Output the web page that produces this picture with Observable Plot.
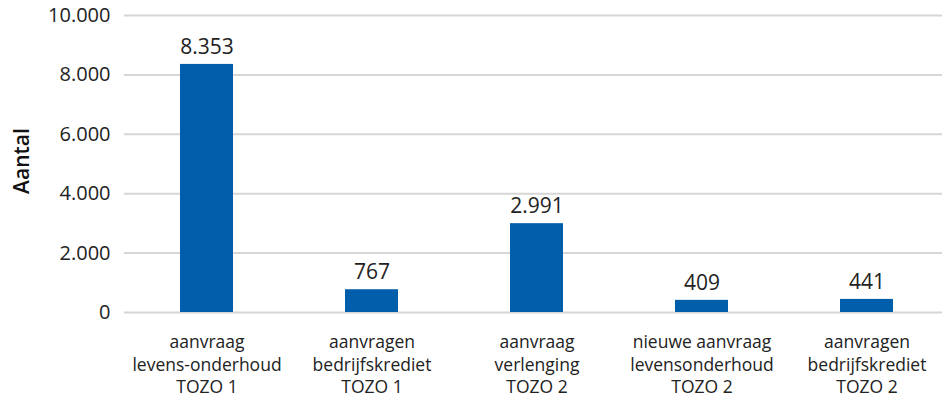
<!DOCTYPE html>
<html>
<head>
<meta charset="utf-8">
<script src="https://cdn.jsdelivr.net/npm/d3@7"></script>
<script src="https://cdn.jsdelivr.net/npm/@observablehq/plot@0.6"></script>
<style>
  html, body { margin: 0; padding: 0; background: #fff; }
  svg { font-family: "Open Sans", sans-serif; }
</style>
</head>
<body>
<div id="chart"></div>
<script>
const categories = [
  "aanvraag\nlevens-onderhoud\nTOZO 1",
  "aanvragen\nbedrijfskrediet\nTOZO 1",
  "aanvraag\nverlenging\nTOZO 2",
  "nieuwe aanvraag\nlevensonderhoud\nTOZO 2",
  "aanvragen\nbedrijfskrediet\nTOZO 2"
];
const values = [8353, 767, 2991, 409, 441];
const yTicks = [0, 2000, 4000, 6000, 8000, 10000];

const nl = d3.formatLocale({decimal: ",", thousands: ".", grouping: [3], currency: ["€", ""]});
const fmt = nl.format(",d");

const data = categories.map((c, i) => ({cat: c, value: values[i]}));

const chart = Plot.plot({
  width: 942,
  height: 403,
  marginTop: 15,
  marginBottom: 91,
  marginLeft: 124,
  marginRight: 0,
  style: {fontFamily: "Open Sans, sans-serif", color: "#222", background: "#fff"},
  x: {domain: categories, range: [124, 949], paddingInner: 0.68, paddingOuter: 0.34, label: null},
  y: {domain: [0, 10000], label: null},
  marks: [
    Plot.gridY(yTicks, {stroke: "#d6d6d6", strokeOpacity: 1, strokeWidth: 2}),
    Plot.barY(data, {x: "cat", y: "value", fill: "#005eaa"}),
    Plot.text(data, {x: "cat", y: "value", text: d => fmt(d.value), dy: -17, fontSize: 21, fill: "#222"}),
    Plot.axisY(yTicks, {tickFormat: fmt, tickSize: 0, tickPadding: 14, fontSize: 20, fill: "#222", label: null}),
    Plot.axisX({tickSize: 0, tickPadding: 20, fontSize: 17.5, lineHeight: 1.28, fill: "#222", label: null, textAnchor: "middle"}),
    Plot.text(["Aantal"], {frameAnchor: "left", textAnchor: "middle", dx: -102, dy: -3, rotate: -90, fontSize: 21, fontWeight: "600", fill: "#111"})
  ]
});
document.getElementById("chart").appendChild(chart);
</script>
</body>
</html>
